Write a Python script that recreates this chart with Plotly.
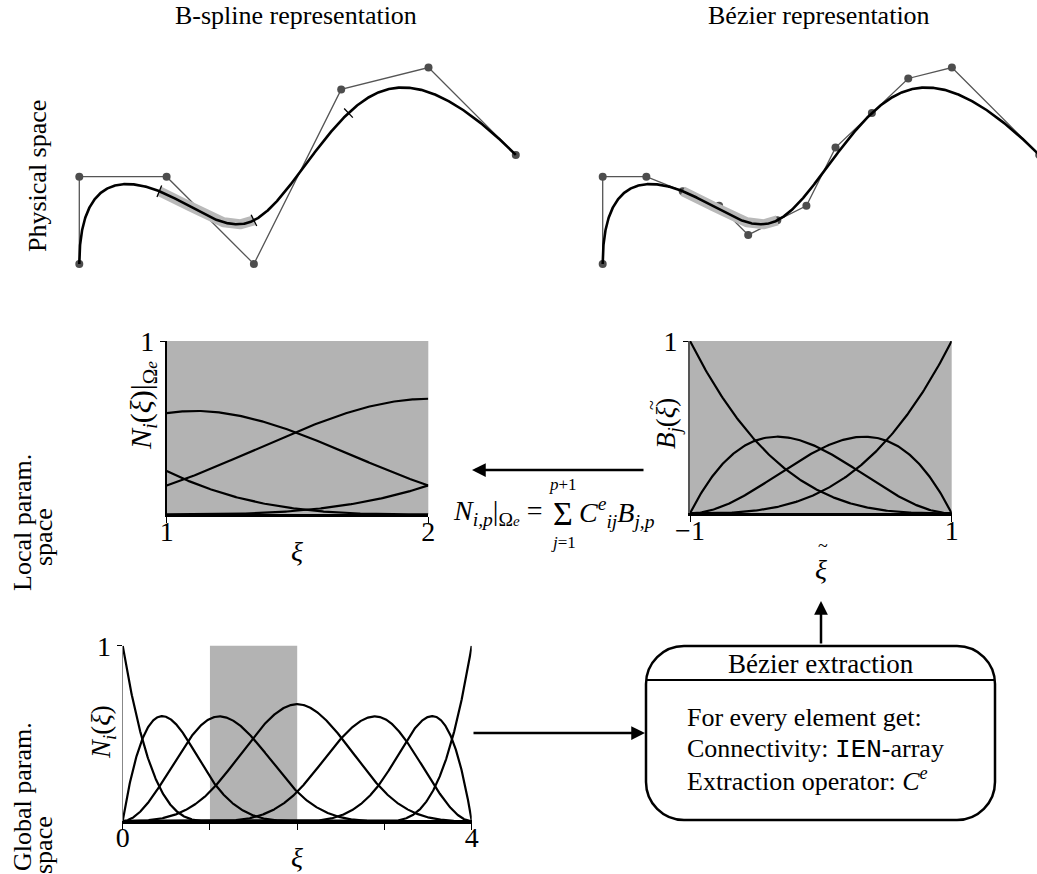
import numpy as np
import plotly.graph_objects as go
from math import comb

# ---------------- data ----------------
degree = 3
knots = [0, 0, 0, 0, 1, 2, 3, 4, 4, 4, 4]
ctrl_x = [0, 0, 1, 2, 3, 4, 5]
ctrl_y = [0, 1, 1, 0, 2, 2.25, 1.25]
highlight_element = [1, 2]          # element Omega_e in the global parameter space
element_boundaries = [1, 2, 3]
local_range = [-1, 1]               # reference element for Bernstein polynomials

titles = ["B-spline representation", "Bézier representation"]
row_labels = ["Physical space", "Local param.", "space", "Global param.", "space"]
box_title = "Bézier extraction"
box_lines = ["For every element get:",
             "Connectivity: <span style='font-family:Liberation Mono'>IEN</span>-array",
             "Extraction operator: <i>C</i><sup><i>e</i></sup>"]

# ---------------- helpers ----------------
W, H = 1037, 874
FONT = "Liberation Serif"
GRAY = "#b3b3b3"
BAND = "#b9b9b9"
PTS = "#4d4d4d"


def X(px):
    return px / W


def Y(py):
    return 1 - py / H


def basis_all(U, p, x):
    U = np.asarray(U, float)
    m = len(U) - 1
    N = np.zeros((m, len(x)))
    for i in range(m):
        if U[i] < U[i + 1]:
            inside = (x >= U[i]) & (x < U[i + 1])
            if U[i + 1] == U[-1]:
                inside |= (x == U[-1])
            N[i] = inside.astype(float)
    for k in range(1, p + 1):
        Nk = np.zeros((m - k, len(x)))
        for i in range(m - k):
            a = 0.0
            if U[i + k] > U[i]:
                a = (x - U[i]) / (U[i + k] - U[i]) * N[i]
            b = 0.0
            if U[i + k + 1] > U[i + 1]:
                b = (U[i + k + 1] - x) / (U[i + k + 1] - U[i + 1]) * N[i + 1]
            Nk[i] = a + b
        N = Nk
    return N


def insert_knot(U, P, u, p):
    U = list(U)
    k = max(i for i in range(len(U) - 1) if U[i] <= u < U[i + 1])
    Q = []
    for i in range(len(P) + 1):
        if i <= k - p:
            Q.append(P[i])
        elif i >= k + 1:
            Q.append(P[i - 1])
        else:
            a = (u - U[i]) / (U[i + p] - U[i])
            Q.append((1 - a) * P[i - 1] + a * P[i])
    U.insert(k + 1, u)
    return U, Q


P = np.column_stack([ctrl_x, ctrl_y]).astype(float)

# Bezier extraction by knot insertion
Ub, Pb = list(knots), [row for row in P]
for u in element_boundaries:
    for _ in range(degree - 1):
        Ub, Pb = insert_knot(Ub, Pb, u, degree)
Pb = np.array(Pb)

xi = np.linspace(knots[0], knots[-1], 801)
Nall = basis_all(knots, degree, xi)
curve = Nall.T @ P

xi_e = np.linspace(highlight_element[0], highlight_element[1], 201)
Ne = basis_all(knots, degree, xi_e)
curve_e = Ne.T @ P

t = np.linspace(local_range[0], local_range[1], 201)
bern = [comb(degree, j) * ((1 - t) / 2) ** (degree - j) * ((1 + t) / 2) ** j
        for j in range(degree + 1)]

# tick marks on physical curve at element boundaries
eps = 1e-4
xb = np.array(element_boundaries, float)
cb = basis_all(knots, degree, xb).T @ P
cplus = basis_all(knots, degree, xb + eps).T @ P
cminus = basis_all(knots, degree, xb - eps).T @ P
tang = cplus - cminus
angles = [-np.degrees(np.arctan2(d[1], d[0])) for d in tang]

fig = go.Figure()

# --------------- physical space (two subplots) ---------------
for ax, cpts in (("", P), ("2", Pb)):
    xa, ya = "x" + ax, "y" + ax
    fig.add_trace(go.Scatter(x=cpts[:, 0], y=cpts[:, 1], mode="lines+markers",
                             line=dict(color="#555555", width=1.3),
                             marker=dict(color=PTS, size=8),
                             xaxis=xa, yaxis=ya, showlegend=False, hoverinfo="skip"))
    fig.add_trace(go.Scatter(x=curve_e[:, 0], y=curve_e[:, 1], mode="lines",
                             line=dict(color=BAND, width=10),
                             xaxis=xa, yaxis=ya, showlegend=False, hoverinfo="skip"))
    fig.add_trace(go.Scatter(x=curve[:, 0], y=curve[:, 1], mode="lines",
                             line=dict(color="black", width=2.6),
                             xaxis=xa, yaxis=ya, showlegend=False, hoverinfo="skip"))

fig.add_trace(go.Scatter(x=cb[:, 0], y=cb[:, 1], mode="markers",
                         marker=dict(symbol="line-ns", size=9, angle=angles,
                                     line=dict(color="black", width=1.3)),
                         xaxis="x", yaxis="y", showlegend=False, hoverinfo="skip"))

# --------------- local param: B-spline restricted to element ---------------
active = [i for i in range(Ne.shape[0]) if np.max(Ne[i]) > 1e-12]
for i in active:
    fig.add_trace(go.Scatter(x=xi_e, y=Ne[i], mode="lines",
                             line=dict(color="black", width=2.2), cliponaxis=False,
                             xaxis="x3", yaxis="y3", showlegend=False, hoverinfo="skip"))

# --------------- local param: Bernstein ---------------
for b in bern:
    fig.add_trace(go.Scatter(x=t, y=b, mode="lines",
                             line=dict(color="black", width=2.2), cliponaxis=False,
                             xaxis="x4", yaxis="y4", showlegend=False, hoverinfo="skip"))

# --------------- global param ---------------
for row in Nall:
    fig.add_trace(go.Scatter(x=xi, y=row, mode="lines",
                             line=dict(color="black", width=2.2), cliponaxis=False,
                             xaxis="x5", yaxis="y5", showlegend=False, hoverinfo="skip"))

# --------------- axes ---------------
S = 87.3


def phys_axes(ox, oy, left, right, top, bottom):
    xa = dict(domain=[X(left), X(right)], range=[(left - ox) / S, (right - ox) / S],
              visible=False, showgrid=False, zeroline=False, automargin=False)
    ya = dict(domain=[Y(bottom), Y(top)], range=[(oy - bottom) / S, (oy - top) / S],
              visible=False, showgrid=False, zeroline=False, automargin=False)
    return xa, ya


xa1, ya1 = phys_axes(79.3, 264.0, 0, 540, 40, 300)
xa2, ya2 = phys_axes(602.7, 264.0, 545, 1037, 40, 300)
ya1["anchor"] = "x"
xa1["anchor"] = "y"
xa2["anchor"] = "y2"
ya2["anchor"] = "x2"

tickfont = dict(family=FONT, size=28, color="black")


def param_x(left, right, rng, tv, tt, anchor):
    return dict(domain=[X(left), X(right)], range=rng, anchor=anchor,
                showline=True, linecolor="black", linewidth=2.5,
                ticks="outside", ticklen=6, tickwidth=1.4, tickcolor="black",
                ticklabelstandoff=-16,
                tickvals=tv, ticktext=tt, tickfont=tickfont, automargin=False,
                showgrid=False, zeroline=False, fixedrange=True)


def param_y(top, bottom, anchor, lc, lw):
    return dict(domain=[Y(bottom), Y(top)], range=[0, 1], anchor=anchor,
                showline=True, linecolor=lc, linewidth=lw,
                ticks="outside", ticklen=5, tickwidth=1.4, tickcolor="black",
                tickvals=[1], ticktext=["1"], tickfont=tickfont, automargin=False,
                showgrid=False, zeroline=False, fixedrange=True)


fig.update_layout(
    xaxis=xa1, yaxis=ya1, xaxis2=xa2, yaxis2=ya2,
    xaxis3=param_x(166.7, 428.3, [highlight_element[0], highlight_element[1]],
                   highlight_element, [str(v) for v in highlight_element], "y3"),
    yaxis3=param_y(341, 514.3, "x3", "black", 1.6),
    xaxis4=param_x(690, 951.7, local_range, local_range,
                   ["\u22121", "1"], "y4"),
    yaxis4=param_y(341, 513.3, "x4", "#555555", 2),
    xaxis5=param_x(122.7, 471.7, [knots[0], knots[-1]],
                   sorted(set(knots)), ["0", "", "", "", "4"], "y5"),
    yaxis5=param_y(645.7, 821, "x5", "#888888", 1.2),
)

# --------------- shapes ---------------
shapes = [
    dict(type="rect", xref="x3 domain", yref="y3 domain", x0=0, x1=1, y0=0, y1=1,
         fillcolor=GRAY, line_width=0, layer="below"),
    dict(type="rect", xref="x4 domain", yref="y4 domain", x0=0, x1=1, y0=0, y1=1,
         fillcolor=GRAY, line_width=0, layer="below"),
    dict(type="rect", xref="x5", yref="y5 domain", x0=highlight_element[0],
         x1=highlight_element[1], y0=0, y1=1,
         fillcolor=GRAY, line_width=0, layer="below"),
]

bx0, bx1, by0, by1, r = 646, 995, 646, 820, 38
k = 0.552 * r
path = (f"M {X(bx0 + r)},{Y(by0)} L {X(bx1 - r)},{Y(by0)} "
        f"C {X(bx1 - r + k)},{Y(by0)} {X(bx1)},{Y(by0 + r - k)} {X(bx1)},{Y(by0 + r)} "
        f"L {X(bx1)},{Y(by1 - r)} "
        f"C {X(bx1)},{Y(by1 - r + k)} {X(bx1 - r + k)},{Y(by1)} {X(bx1 - r)},{Y(by1)} "
        f"L {X(bx0 + r)},{Y(by1)} "
        f"C {X(bx0 + r - k)},{Y(by1)} {X(bx0)},{Y(by1 - r + k)} {X(bx0)},{Y(by1 - r)} "
        f"L {X(bx0)},{Y(by0 + r)} "
        f"C {X(bx0)},{Y(by0 + r - k)} {X(bx0 + r - k)},{Y(by0)} {X(bx0 + r)},{Y(by0)} Z")
shapes.append(dict(type="path", xref="paper", yref="paper", path=path,
                   line=dict(color="black", width=2.5), fillcolor="rgba(0,0,0,0)"))
shapes.append(dict(type="line", xref="paper", yref="paper",
                   x0=X(bx0), x1=X(bx1), y0=Y(680), y1=Y(680),
                   line=dict(color="black", width=2)))
fig.update_layout(shapes=shapes)

# --------------- annotations ---------------


def ann(text, px, py, size=26, xanchor="center", yanchor="middle", angle=0):
    return dict(text=text, x=X(px), y=Y(py), xref="paper", yref="paper",
                showarrow=False, font=dict(family=FONT, size=size, color="black"),
                xanchor=xanchor, yanchor=yanchor, textangle=angle)


def arrow(px, py, fx, fy):
    return dict(text="", x=X(px), y=Y(py), xref="paper", yref="paper",
                ax=fx - px, ay=fy - py, axref="pixel", ayref="pixel",
                showarrow=True, arrowhead=2, arrowsize=1.1, arrowwidth=2.5,
                arrowcolor="black", standoff=0, startstandoff=0)


anns = [
    ann(titles[0], 296, 15),
    ann(titles[1], 819, 15),
    ann(row_labels[0], 37, 176, angle=-90),
    ann(row_labels[1], 22, 523, angle=-90),
    ann(row_labels[2], 43, 537, angle=-90),
    ann(row_labels[3], 22, 797, angle=-90),
    ann(row_labels[4], 43, 845, angle=-90),
    # y labels
    ann("<i>N<sub>i</sub></i>(<i>ξ</i>)|<sub>Ω<span style='font-size:17px'><i>e</i></span></sub>",
        143, 406, size=30, angle=-90),
    ann("<i>B<sub>j</sub></i>(<i>ξ</i>)", 668, 424, size=27, angle=-90),
    ann("~", 652, 405, size=18, angle=-90),
    ann("<i>N<sub>i</sub></i>(<i>ξ</i>)", 103, 732, size=27, angle=-90),
    # x labels
    ann("<i>ξ</i>", 297, 551, size=28),
    ann("<i>ξ</i>", 821, 569, size=28),
    ann("~", 823, 546, size=18),
    ann("<i>ξ</i>", 297, 857, size=28),
    # formula
    ann("<i>N</i><sub><i>i,p</i></sub>|<sub>Ω<span style='font-size:15px'><i>e</i></span></sub> =",
        544, 512, size=28, xanchor="right"),
    ann("Σ", 563, 513, size=34),
    ann("<i>p</i>+1", 563, 484, size=17),
    ann("<i>j</i>=1", 563, 542, size=17),
    ann("<i>C</i><sup><i>e</i></sup><sub style='font-size:15px'><i>ij</i></sub><i>B</i><sub><i>j,p</i></sub>",
        577, 512, size=28, xanchor="left"),
    # box
    ann(box_title, 821, 664, size=27),
    ann(box_lines[0], 685, 717, xanchor="left"),
    ann(box_lines[1], 685, 749, xanchor="left"),
    ann(box_lines[2], 685, 779, xanchor="left"),
    # arrows
    arrow(472, 470, 645, 470),
    arrow(645, 733, 472, 733),
    arrow(821, 601, 821, 645),
]
fig.update_layout(annotations=anns)

fig.update_layout(width=W, height=H,
                  margin=dict(l=0, r=0, t=0, b=0, pad=0, autoexpand=False),
                  paper_bgcolor="white", plot_bgcolor="white",
                  font=dict(family=FONT, color="black"), showlegend=False)

fig.write_html("out.html")
